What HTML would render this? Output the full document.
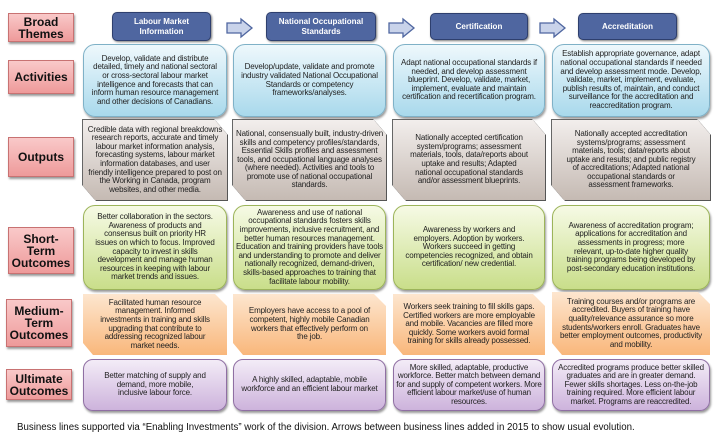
<!DOCTYPE html>
<html><head><meta charset="utf-8"><style>
body{margin:0;width:719px;height:437px;background:#fff;position:relative;overflow:hidden;font-family:"Liberation Sans",Arial,sans-serif;}
.a{position:absolute;box-sizing:border-box;display:flex;align-items:center;justify-content:center;text-align:center;}
.lab{background:linear-gradient(#f9c9c9,#ee9a9a);border:1px solid #c87272;box-shadow:1px 2px 2px #999;font-weight:bold;font-size:12px;line-height:12px;color:#111;}
.hd{background:#4f66a0;border:1px solid #2e3f6e;border-radius:5px;color:#fff;font-weight:bold;font-size:8px;line-height:10px;box-shadow:1px 1px 2px #777;}
.t{font-size:8px;line-height:8.6px;color:#222;padding:0 6px;letter-spacing:-0.15px;}
.act{background:linear-gradient(#eef8fc,#a9d9ec);border:1px solid #7fb1c7;border-radius:12px;box-shadow:1px 2px 2px #999;}
.ow{position:absolute;filter:drop-shadow(1px 1px 0 #555) drop-shadow(-0.6px -0.6px 0 #666);}
.out{background:linear-gradient(#f2eeec,#c5bab3);clip-path:polygon(0 0,calc(100% - 12px) 0,100% 14px,100% 100%,12px 100%,0 calc(100% - 14px));}
.sh{background:linear-gradient(#f6fae5,#c9de8a);border:1px solid #9cb45a;border-radius:12px;box-shadow:1px 2px 2px #999;}
.med{background:linear-gradient(#fde6cf,#f9b77b);clip-path:polygon(0 0,calc(100% - 12px) 0,100% 12px,100% 100%,10px 100%,0 calc(100% - 12px));}
.ult{background:linear-gradient(#f3ecf7,#cdb3dc);border:1px solid #8f6fa3;border-radius:10px;box-shadow:1px 2px 2px #999;}
.arr{position:absolute;}
</style></head><body>
<div class="a lab" style="left:8px;top:13px;width:66px;height:29px">Broad<br>Themes</div>
<div class="a lab" style="left:8px;top:60px;width:66px;height:34px">Activities</div>
<div class="a lab" style="left:8px;top:137px;width:66px;height:40px">Outputs</div>
<div class="a lab" style="left:8px;top:227px;width:66px;height:47px">Short-<br>Term<br>Outcomes</div>
<div class="a lab" style="left:6px;top:299px;width:66px;height:48px">Medium-<br>Term<br>Outcomes</div>
<div class="a lab" style="left:6px;top:369px;width:66px;height:31px">Ultimate<br>Outcomes</div>

<div class="a hd" style="left:112px;top:12px;width:99px;height:29px">Labour Market<br>Information</div>
<div class="a hd" style="left:266px;top:12px;width:110px;height:29px">National Occupational<br>Standards</div>
<div class="a hd" style="left:430px;top:13px;width:98px;height:27px">Certification</div>
<div class="a hd" style="left:578px;top:13px;width:99px;height:27px">Accreditation</div>

<svg class="arr" style="left:0;top:0" width="719" height="60">
<g fill="#c9d3ea" stroke="#4f66a0" stroke-width="1.3">
<polygon points="227,23 241,23 241,19 252,28 241,37 241,33 227,33"/>
<polygon points="389,23 403,23 403,19 414,28 403,37 403,33 389,33"/>
<polygon points="540,23 554,23 554,19 565,28 554,37 554,33 540,33"/>
</g></svg>

<div class="a act t" style="left:83px;top:44px;width:144px;height:73px">Develop, validate and distribute detailed, timely and national sectoral or cross-sectoral labour market intelligence and forecasts that can inform human resource management and other decisions of Canadians.</div>
<div class="a act t" style="left:233px;top:44px;width:153px;height:73px">Develop/update, validate and promote industry validated National Occupational Standards or competency frameworks/analyses.</div>
<div class="a act t" style="left:393px;top:44px;width:152px;height:73px">Adapt national occupational standards if needed, and develop assessment blueprint. Develop, validate, market, implement, evaluate and maintain certification and recertification program.</div>
<div class="a act t" style="left:552px;top:44px;width:158px;height:73px;padding:0 3px">Establish appropriate governance, adapt national occupational standards if needed and develop assessment mode. Develop, validate, market, implement, evaluate, publish results of, maintain, and conduct surveillance for the accreditation and reaccreditation program.</div>

<div class="ow" style="left:83px;top:120px;width:144px;height:80px"><div class="a out t" style="left:0;top:0;width:144px;height:80px;padding:0 4px">Credible data with regional breakdowns research reports, accurate and timely labour market information analysis, forecasting systems, labour market information databases, and user friendly intelligence prepared to post on the Working in Canada, program websites, and other media.</div></div>
<div class="ow" style="left:233px;top:120px;width:153px;height:80px"><div class="a out t" style="left:0;top:0;width:153px;height:80px;padding:0 2px">National, consensually built, industry-driven skills and competency profiles/standards, Essential Skills profiles and assessment tools, and occupational language analyses (where needed). Activities and tools to promote use of national occupational standards.</div></div>
<div class="ow" style="left:393px;top:120px;width:152px;height:80px"><div class="a out t" style="left:0;top:0;width:152px;height:80px;padding:0 14px">Nationally accepted certification system/programs; assessment materials, tools, data/reports about uptake and results; Adapted national occupational standards and/or assessment blueprints.</div></div>
<div class="ow" style="left:552px;top:120px;width:158px;height:80px"><div class="a out t" style="left:0;top:0;width:158px;height:80px;padding:0 14px">Nationally accepted accreditation systems/programs; assessment materials, tools; data/reports about uptake and results; and public registry of accreditations; Adapted national occupational standards or assessment frameworks.</div></div>

<div class="a sh t" style="left:83px;top:205px;width:144px;height:85px;padding:0 10px">Better collaboration in the sectors. Awareness of products and consensus built on priority HR issues on which to focus. Improved capacity to invest in skills development and manage human resources in keeping with labour market trends and issues.</div>
<div class="a sh t" style="left:233px;top:205px;width:153px;height:85px;padding:0 2px">Awareness and use of national occupational standards fosters skills improvements, inclusive recruitment, and better human resources management. Education and training providers have tools and understanding to promote and deliver nationally recognized, demand-driven, skills-based approaches to training that facilitate labour mobility.</div>
<div class="a sh t" style="left:393px;top:205px;width:152px;height:85px;padding:0 10px">Awareness by workers and employers. Adoption by workers. Workers succeed in getting competencies recognized, and obtain certification/ new credential.</div>
<div class="a sh t" style="left:552px;top:205px;width:158px;height:85px;padding:0 10px">Awareness of accreditation program; applications for accreditation and assessments in progress; more relevant, up-to-date higher quality training programs being developed by post-secondary education institutions.</div>

<div class="a med t" style="left:83px;top:294px;width:144px;height:61px;padding:0 12px">Facilitated human resource management. Informed investments in training and skills upgrading that contribute to addressing recognized labour market needs.</div>
<div class="a med t" style="left:233px;top:294px;width:153px;height:61px;padding:0 12px">Employers have access to a pool of competent, highly mobile Canadian workers that effectively perform on the job.</div>
<div class="a med t" style="left:393px;top:294px;width:152px;height:61px;padding:0 4px">Workers seek training to fill skills gaps. Certified workers are more employable and mobile. Vacancies are filled more quickly. Some workers avoid formal training for skills already possessed.</div>
<div class="a med t" style="left:552px;top:292px;width:158px;height:63px;padding:0 4px">Training courses and/or programs are accredited. Buyers of training have quality/relevance assurance so more students/workers enroll. Graduates have better employment outcomes, productivity and mobility.</div>

<div class="a ult t" style="left:83px;top:359px;width:144px;height:52px;padding:0 20px">Better matching of supply and demand, more mobile, inclusive labour force.</div>
<div class="a ult t" style="left:233px;top:359px;width:153px;height:52px">A highly skilled, adaptable, mobile workforce and an efficient labour market</div>
<div class="a ult t" style="left:393px;top:359px;width:152px;height:52px;padding:0 2px">More skilled, adaptable, productive workforce. Better match between demand for and supply of competent workers. More efficient labour market/use of human resources.</div>
<div class="a ult t" style="left:552px;top:359px;width:158px;height:52px;padding:0 4px">Accredited programs produce better skilled graduates and are in greater demand. Fewer skills shortages. Less on-the-job training required. More efficient labour market. Programs are reaccredited.</div>

<div style="position:absolute;left:17px;top:422px;font-size:9.7px;color:#111;white-space:nowrap">Business lines supported via “Enabling Investments” work of the division. Arrows between business lines added in 2015 to show usual evolution.</div>
</body></html>
